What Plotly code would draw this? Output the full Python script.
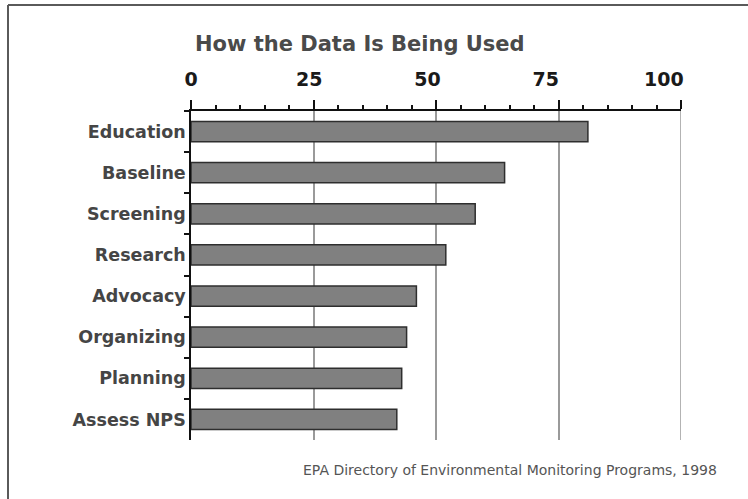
import plotly.graph_objects as go

categories = ["Education", "Baseline", "Screening", "Research",
              "Advocacy", "Organizing", "Planning", "Assess NPS"]
values = [81, 64, 58, 52, 46, 44, 43, 42]
tick_values = [0, 25, 50, 75, 100]
tick_labels = ["0", "25", "50", "75", "100"]
title_text = "How the Data Is Being Used"
source_text = "EPA Directory of Environmental Monitoring Programs, 1998"

W, H = 748, 499
ML, MR, MT, MB = 191, 67, 111, 59
pw, ph = W - ML - MR, H - MT - MB

def px_x(p):
    return (p - ML) / pw

def px_y(p):
    return (H - MB - p) / ph

fig = go.Figure()
fig.add_trace(go.Bar(
    x=values, y=categories, orientation="h",
    width=0.49,
    marker=dict(color="#808080", line=dict(color="#2e2e2e", width=1.5)),
    hoverinfo="skip",
))

# invisible helper trace carrying the top label axis
fig.add_trace(go.Scatter(
    x=tick_values, y=[categories[0]] * len(tick_values),
    xaxis="x2", yaxis="y", mode="markers",
    marker=dict(opacity=0), hoverinfo="skip", showlegend=False,
))

fig.update_layout(
    width=W, height=H,
    margin=dict(l=ML, r=MR, t=MT, b=MB, pad=0),
    paper_bgcolor="white", plot_bgcolor="rgba(0,0,0,0)",
    showlegend=False,
    title=dict(
        text=title_text,
        x=195 / W, xanchor="left", xref="container",
        y=1 - 44 / H, yanchor="middle", yref="container",
        font=dict(family="DejaVu Sans", size=21, color="#4a4a4a", weight="bold"),
    ),
    xaxis=dict(
        range=[0, 100], side="top",
        tickvals=tick_values, showticklabels=False,
        ticks="outside", ticklen=9, tickwidth=1.5, tickcolor="#111",
        minor=dict(ticks="outside", ticklen=4, tickwidth=1.5, tickcolor="#111",
                   dtick=5, tick0=0, showgrid=False),
        showline=True, linecolor="#111", linewidth=1.5,
        showgrid=True, gridcolor="#9a9a9a", gridwidth=1.5,
        zeroline=False, fixedrange=True,
    ),
    xaxis2=dict(
        range=[0, 100], domain=[0, 0.965], anchor="y", side="top",
        tickvals=tick_values, ticktext=tick_labels,
        ticks="", ticklabelstandoff=20,
        tickfont=dict(family="DejaVu Sans", size=19, color="#1a1a1a", weight="bold"),
        showline=False, showgrid=False, zeroline=False, fixedrange=True,
    ),
    yaxis=dict(
        type="category", categoryorder="array", categoryarray=categories,
        range=[len(categories) - 0.5, -0.5],
        tickson="boundaries", ticks="outside", ticklen=5, tickwidth=1.5,
        tickcolor="#111",
        showline=True, linecolor="#111", linewidth=1.5,
        showgrid=False, zeroline=False, fixedrange=True,
        tickfont=dict(family="DejaVu Sans", size=17.5, color="#454545", weight="bold"),
    ),
    annotations=[dict(
        text=source_text, showarrow=False,
        xref="paper", yref="paper",
        x=px_x(719), y=px_y(470), xanchor="right", yanchor="middle",
        font=dict(family="DejaVu Sans", size=14, color="#555555"),
    )],
    shapes=[
        # gridline at the last tick (plotly omits gridlines on the range edge)
        dict(type="line", xref="x", yref="paper",
             x0=tick_values[-1], x1=tick_values[-1], y0=0, y1=1,
             line=dict(color="#9a9a9a", width=1.5), layer="below"),
        dict(type="line", xref="paper", yref="paper",
             x0=px_x(8), y0=px_y(5), x1=px_x(W + 2), y1=px_y(5),
             line=dict(color="#5a5a5a", width=2)),
        dict(type="line", xref="paper", yref="paper",
             x0=px_x(8), y0=px_y(5), x1=px_x(8), y1=px_y(H + 2),
             line=dict(color="#5a5a5a", width=2)),
    ],
)

fig.write_html("out.html", config={"displayModeBar": False})
